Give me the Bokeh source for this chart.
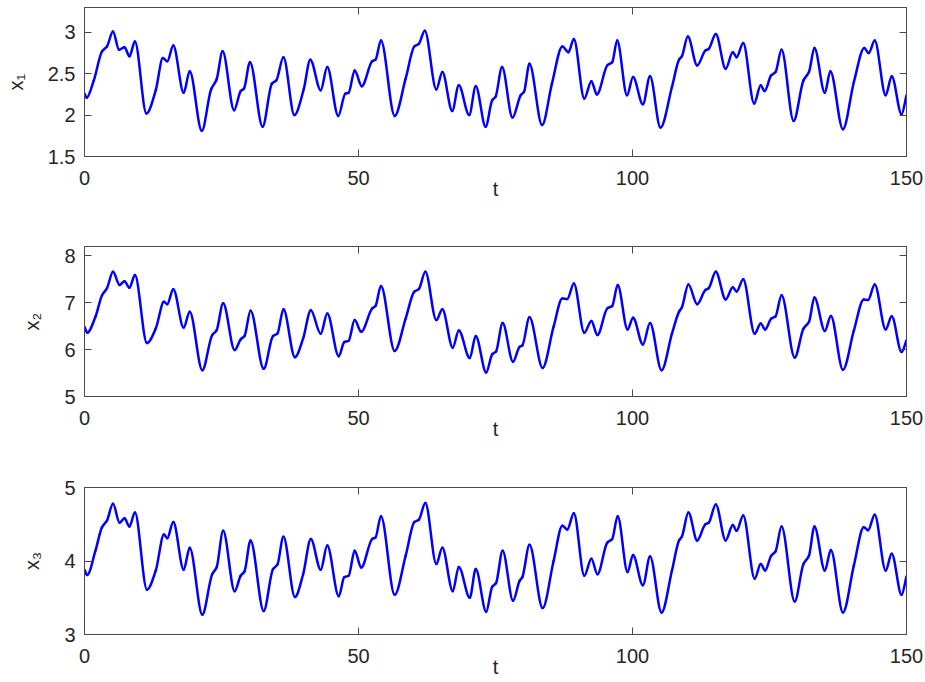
import numpy as np
from bokeh.plotting import figure
from bokeh.layouts import column
from bokeh.models import Range1d, LinearAxis, FixedTicker
from bokeh.embed import file_html
from bokeh.resources import INLINE

# ---- data ----
t_x1 = [0, 0.4, 1.7, 3.2, 4.1, 5.2, 6.3, 7.3, 8.2, 9.2,
        11.3, 13.0, 14.3, 15.1, 16.2, 18.1, 19.2, 21.4, 23.1, 24.1,
        25.2, 27.3, 28.5, 29.1, 30.2, 32.5, 34.2, 35.0, 36.3, 38.3,
        40.0, 41.2, 43.1, 44.3, 46.3, 47.6, 48.2, 49.3, 50.6, 52.5,
        53.1, 54.1, 56.6, 58.6, 60.2, 61.0, 62.1, 64.2, 65.3, 67.1,
        68.3, 70.2, 71.4, 73.2, 74.4, 75.0, 76.2, 78.1, 79.6, 80.2,
        81.2, 83.5, 85.3, 87.2, 88.3, 89.3, 91.2, 92.5, 93.5, 95.4,
        96.3, 97.2, 99.0, 100.1, 101.9, 103.2, 105.1, 107.2, 108.5, 109.0,
        110.1, 111.8, 113.3, 113.9, 115.2, 117.0, 118.3, 119.0, 120.2, 122.2,
        123.4, 124.1, 125.3, 126.1, 127.2, 129.4, 131.2, 132.2, 133.2, 135.1,
        136.1, 138.4, 140.4, 142.3, 143.1, 144.2, 146.2, 147.3, 149.1, 150]
x1 = [2.26, 2.21, 2.42, 2.77, 2.83, 3.01, 2.79, 2.82, 2.71, 2.89,
      2.02, 2.30, 2.69, 2.65, 2.84, 2.27, 2.53, 1.81, 2.31, 2.43,
      2.77, 2.06, 2.29, 2.32, 2.64, 1.86, 2.38, 2.42, 2.70, 2.00,
      2.31, 2.67, 2.30, 2.58, 1.99, 2.26, 2.27, 2.54, 2.35, 2.65,
      2.67, 2.90, 1.99, 2.44, 2.83, 2.86, 3.02, 2.31, 2.52, 2.05,
      2.36, 2.00, 2.35, 1.86, 2.18, 2.22, 2.58, 1.97, 2.24, 2.28,
      2.62, 1.88, 2.38, 2.83, 2.76, 2.92, 2.20, 2.41, 2.25, 2.60,
      2.64, 2.90, 2.24, 2.46, 2.13, 2.47, 1.85, 2.34, 2.67, 2.71,
      2.95, 2.60, 2.78, 2.80, 2.98, 2.56, 2.76, 2.70, 2.87, 2.14,
      2.36, 2.29, 2.48, 2.52, 2.79, 1.93, 2.42, 2.52, 2.81, 2.27,
      2.53, 1.83, 2.40, 2.81, 2.75, 2.90, 2.24, 2.47, 2.01, 2.24]

t_x23 = [0, 0.5, 2.0, 3.2, 4.1, 5.2, 6.4, 7.3, 8.2, 9.2,
         11.4, 13.0, 14.5, 15.1, 16.2, 18.1, 19.2, 21.5, 23.3, 24.1,
         25.3, 27.4, 28.5, 29.2, 30.3, 32.7, 34.4, 35.2, 36.3, 38.4,
         39.9, 41.3, 43.1, 44.3, 46.4, 47.4, 48.2, 49.3, 50.5, 52.5,
         53.1, 54.1, 56.6, 58.6, 60.2, 61.0, 62.2, 64.2, 65.3, 67.2,
         68.3, 70.3, 71.4, 73.3, 74.4, 75.1, 76.3, 78.2, 79.4, 79.9,
         81.2, 83.6, 85.6, 87.2, 88.1, 89.3, 91.2, 92.5, 93.6, 95.4,
         96.3, 97.3, 99.1, 100.1, 101.9, 103.2, 105.3, 107.2, 108.5, 109.0,
         110.2, 111.8, 113.3, 113.9, 115.2, 117.0, 118.3, 119.0, 120.2, 122.3,
         123.4, 124.2, 125.3, 126.1, 127.2, 129.6, 131.2, 132.2, 133.2, 135.1,
         136.2, 138.4, 140.4, 142.2, 143.0, 144.2, 146.2, 147.3, 149.1, 150]
x2 = [6.49, 6.36, 6.70, 7.16, 7.31, 7.66, 7.38, 7.46, 7.32, 7.59,
      6.14, 6.45, 7.02, 6.97, 7.29, 6.47, 6.81, 5.56, 6.31, 6.41,
      6.99, 5.99, 6.22, 6.29, 6.83, 5.59, 6.29, 6.34, 6.86, 5.84,
      6.24, 6.84, 6.34, 6.77, 5.86, 6.16, 6.19, 6.63, 6.38, 6.88,
      6.93, 7.36, 5.97, 6.66, 7.24, 7.29, 7.66, 6.63, 6.86, 6.04,
      6.41, 5.82, 6.29, 5.51, 5.90, 5.96, 6.57, 5.74, 6.06, 6.09,
      6.69, 5.61, 6.49, 7.09, 7.08, 7.41, 6.36, 6.61, 6.31, 6.88,
      6.93, 7.38, 6.43, 6.68, 6.11, 6.57, 5.56, 6.34, 6.81, 6.90,
      7.39, 6.97, 7.27, 7.31, 7.66, 7.07, 7.33, 7.24, 7.50, 6.34,
      6.56, 6.43, 6.66, 6.71, 7.16, 5.83, 6.45, 6.59, 7.11, 6.40,
      6.72, 5.57, 6.41, 7.07, 7.06, 7.39, 6.43, 6.71, 5.95, 6.20]
x3 = [3.88, 3.81, 4.14, 4.46, 4.55, 4.78, 4.52, 4.58, 4.47, 4.66,
      3.61, 3.87, 4.36, 4.31, 4.53, 3.88, 4.18, 3.27, 3.82, 3.91,
      4.41, 3.59, 3.80, 3.86, 4.28, 3.32, 3.89, 3.95, 4.33, 3.51,
      3.82, 4.30, 3.88, 4.21, 3.52, 3.78, 3.80, 4.14, 3.91, 4.30,
      4.32, 4.61, 3.54, 4.07, 4.53, 4.56, 4.79, 3.96, 4.18, 3.59,
      3.92, 3.50, 3.89, 3.31, 3.65, 3.70, 4.14, 3.46, 3.73, 3.78,
      4.22, 3.36, 4.00, 4.48, 4.43, 4.65, 3.80, 4.03, 3.82, 4.25,
      4.30, 4.61, 3.85, 4.08, 3.67, 4.06, 3.30, 3.87, 4.28, 4.33,
      4.66, 4.28, 4.50, 4.52, 4.77, 4.28, 4.49, 4.41, 4.62, 3.76,
      3.96, 3.87, 4.07, 4.13, 4.47, 3.45, 3.96, 4.07, 4.47, 3.87,
      4.15, 3.30, 3.94, 4.46, 4.42, 4.63, 3.87, 4.10, 3.54, 3.79]

x_ticks = [0, 50, 100, 150]
x1_ticks = [1.5, 2, 2.5, 3]
x2_ticks = [5, 6, 7, 8]
x3_ticks = [3, 4, 5]

FONT = "Liberation Sans"
TXT = "#262626"
AXC = "#4a4a4a"
FS = "20px"


def smooth_segments(t, y):
    """Shape-preserving cubic segments through every read point (drawn as Bezier)."""
    t = np.asarray(t, float)
    y = np.asarray(y, float)
    h = np.diff(t)
    d = np.diff(y) / h
    m = np.zeros_like(y)
    for k in range(1, len(y) - 1):
        if d[k - 1] * d[k] > 0:
            w1 = 2 * h[k] + h[k - 1]
            w2 = h[k] + 2 * h[k - 1]
            m[k] = (w1 + w2) / (w1 / d[k - 1] + w2 / d[k])
    m[0] = d[0]
    m[-1] = d[-1]
    return dict(x0=t[:-1], y0=y[:-1], x1=t[1:], y1=y[1:],
                cx0=t[:-1] + h / 3, cy0=y[:-1] + m[:-1] * h / 3,
                cx1=t[1:] - h / 3, cy1=y[1:] - m[1:] * h / 3)


def style_axis(ax, ticks, labels=True):
    ax.ticker = FixedTicker(ticks=ticks)
    ax.axis_line_color = AXC
    ax.major_tick_line_color = AXC
    ax.major_tick_in = 7
    ax.major_tick_out = 0
    ax.minor_tick_line_color = None
    if labels:
        ax.major_label_text_font = FONT
        ax.major_label_text_font_size = FS
        ax.major_label_text_color = TXT
        ax.axis_label_text_font = FONT
        ax.axis_label_text_font_size = "20px"
        ax.axis_label_text_font_style = "normal"
        ax.axis_label_text_color = TXT
    else:
        ax.major_label_text_font_size = "1px"
        ax.major_label_text_color = None
        ax.major_label_standoff = 0


def make(tt, yy, ylab, ylo, yhi, yticks, h, top, bottom):
    p = figure(width=923, height=h, output_backend="svg", toolbar_location=None,
               x_range=Range1d(0, 150), y_range=Range1d(ylo, yhi),
               min_border_left=84, min_border_right=17,
               min_border_top=top, min_border_bottom=bottom)
    p.bezier(line_color="#0000ff", line_width=2.5, line_cap="round",
             **smooth_segments(tt, yy))
    p.grid.visible = False
    p.outline_line_color = AXC
    p.background_fill_color = "white"
    p.border_fill_color = "white"

    xa = p.xaxis[0]
    style_axis(xa, x_ticks)
    xa.axis_label = "t"
    xa.major_label_standoff = 14
    xa.axis_label_standoff = -10

    ya = p.yaxis[0]
    style_axis(ya, yticks)
    ya.axis_label = ylab
    ya.major_label_standoff = 9
    ya.axis_label_standoff = 18

    ra = LinearAxis()
    style_axis(ra, yticks, labels=False)
    p.add_layout(ra, "right")
    ta = LinearAxis()
    style_axis(ta, x_ticks, labels=False)
    p.add_layout(ta, "above")
    return p


p1 = make(t_x1, x1, "x\u2081", 1.5, 3.3, x1_ticks, 238, 7, 82)
p2 = make(t_x23, x2, "x\u2082", 5, 8.2, x2_ticks, 237, 8, 79)
p3 = make(t_x23, x3, "x\u2083", 3, 5, x3_ticks, 207, 12, 48)

layout = column(p1, p2, p3, spacing=0)
open("out.html", "w").write(file_html(layout, INLINE))
